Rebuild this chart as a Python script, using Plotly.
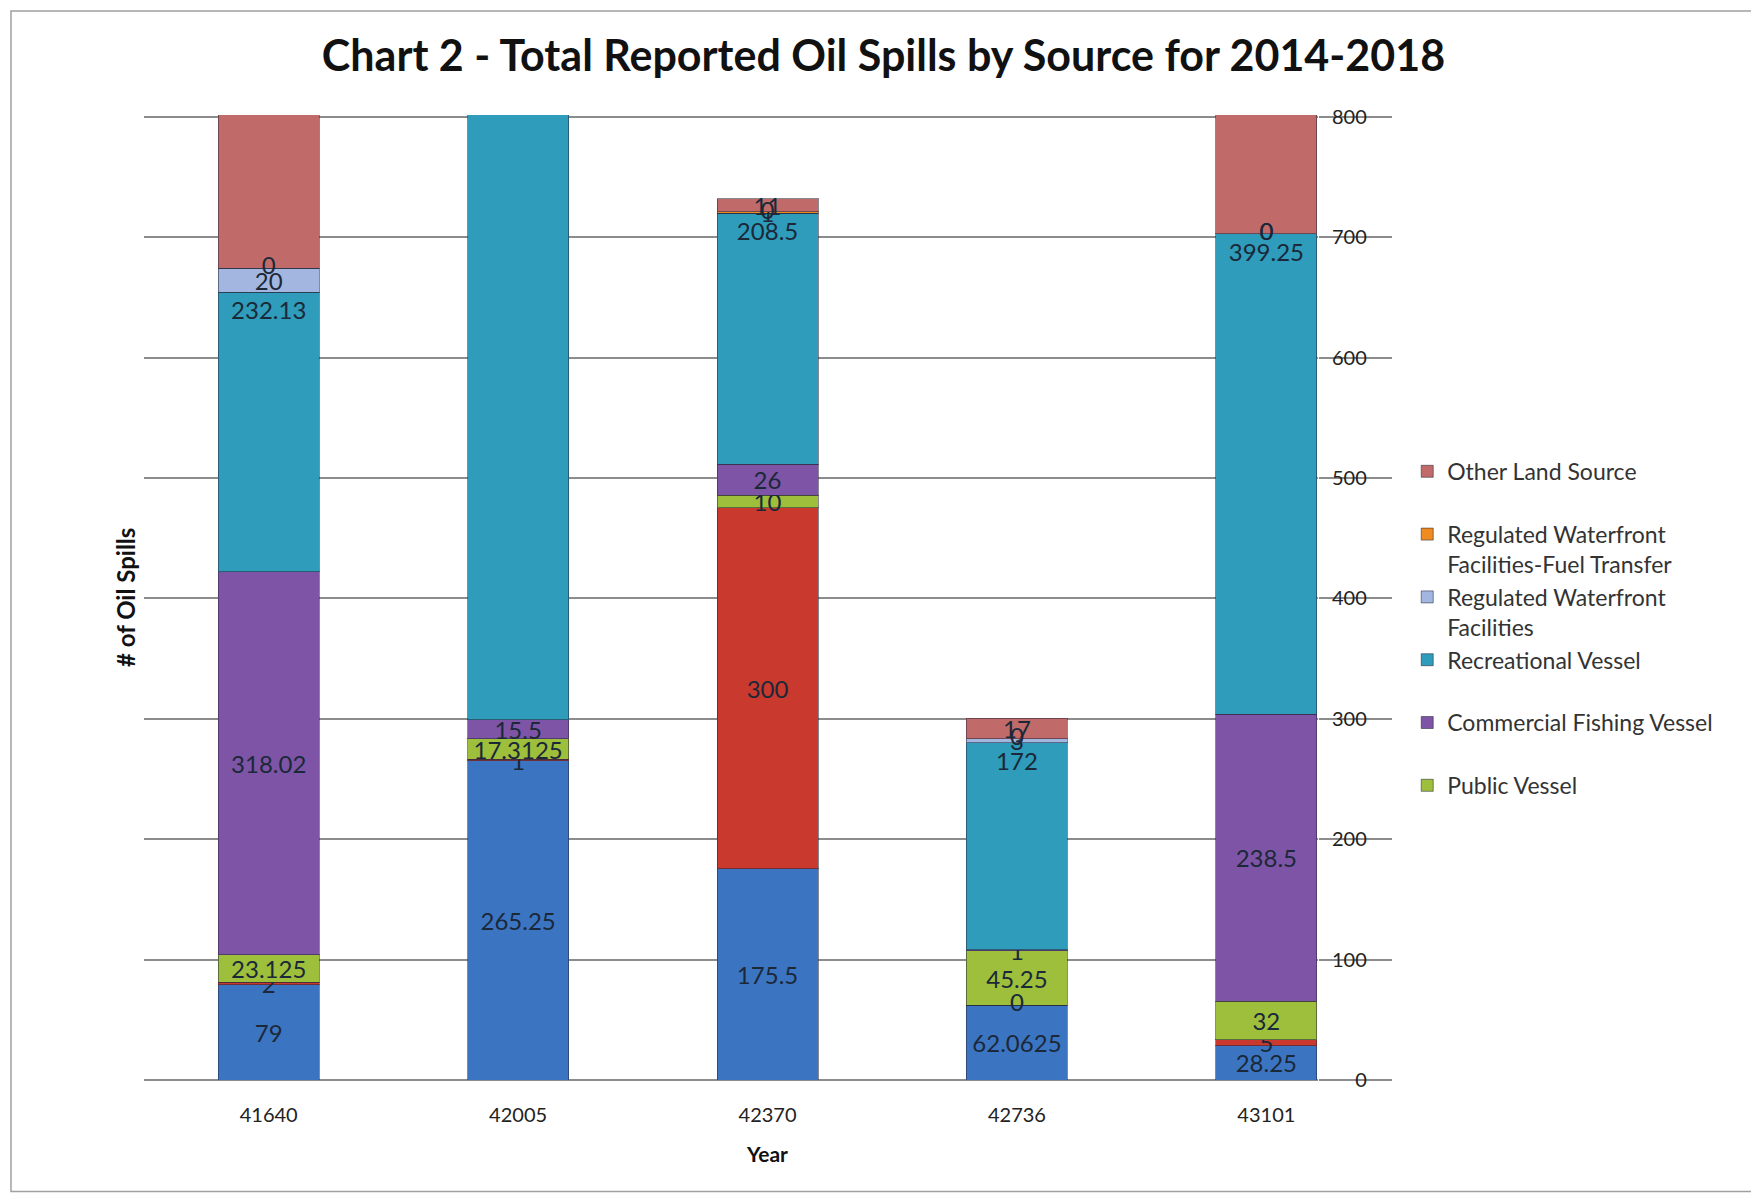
import plotly.graph_objects as go

# categories (Excel date serials as shown on the axis)
years = ['41640', '42005', '42370', '42736', '43101']

# series, bottom of the stack first
commercial_vessel = [79, 265.25, 175.5, 62.0625, 28.25]
non_regulated = [2, 1, 300, 0, 5]
public_vessel = [23.125, 17.3125, 10, 45.25, 32]
commercial_fishing = [318.02, 15.5, 26, 1, 238.5]
recreational = [232.13, 1040, 208.5, 172, 399.25]
reg_waterfront = [20, 0, 0, 3, 0]
reg_fuel_transfer = [0, 0, 1, 0, 0]
other_land = [280, 0, 11, 17, 210]

series = [
    ('Commercial Vessel', commercial_vessel, '#3B75C2', False),
    ('Non-Regulated Facility', non_regulated, '#C9392E', False),
    ('Public Vessel', public_vessel, '#9DBF3C', True),
    ('Commercial Fishing Vessel', commercial_fishing, '#7D54A6', True),
    ('Recreational Vessel', recreational, '#2E9CBA', True),
    ('Regulated Waterfront<br>Facilities', reg_waterfront, '#A3B6E0', True),
    ('Regulated Waterfront<br>Facilities-Fuel Transfer', reg_fuel_transfer, '#EF8B1F', True),
    ('Other Land Source', other_land, '#C06B6A', True),
]

YMAX = 800
y_ticks = list(range(0, YMAX + 1, 100))
# plot area is narrower than the full category band so the axis ticks
# can run out to the right like Excel's gridlines do
X_END = len(years) - 0.5 - 0.293

LABEL_FONT = dict(family='Lato', size=24, color='#1B2838')


def fmt(v):
    return f'{v:g}'


fig = go.Figure()
base = [0] * len(years)
zero_x, zero_y = [], []
for k, (name, vals, color, show) in enumerate(series):
    # Excel hides labels whose segment centre falls above the axis max
    labels = []
    for i, v in enumerate(vals):
        labels.append('' if base[i] + v / 2 > YMAX else fmt(v))
        if v == 0 and base[i] <= YMAX:
            zero_x.append(years[i])
            zero_y.append(base[i])
    legend_name = name if '<br>' in name else name + '<br> '
    fig.add_trace(go.Bar(
        x=years, y=vals, name=legend_name,
        text=labels, textposition='inside', textangle=0, constraintext='none',
        insidetextanchor='end' if name == 'Recreational Vessel' else 'middle',
        textfont=LABEL_FONT,
        marker=dict(color=color, line=dict(color='rgba(40,40,60,0.55)', width=1)),
        showlegend=show, legendgroup=name, legendrank=1000 - k,
    ))
    base = [b + v for b, v in zip(base, vals)]

# zero-height segments still carry a "0" label in the original
fig.add_trace(go.Scatter(
    x=zero_x, y=zero_y, mode='text', text=['0'] * len(zero_x),
    textposition='middle center', textfont=LABEL_FONT,
    showlegend=False, hoverinfo='skip',
))

fig.update_layout(
    barmode='stack',
    bargap=0.595,
    width=1751, height=1190,
    paper_bgcolor='white', plot_bgcolor='white',
    margin=dict(l=136, r=441, t=107, b=118),
    font=dict(family='Lato', size=19, color='#222'),
    title=dict(text='<b>Chart 2 - Total Reported Oil Spills by Source for 2014-2018</b>',
               x=0.5, xanchor='center', xref='container',
               y=0.96, yanchor='middle', yref='container',
               font=dict(family='Lato', size=43, color='#111')),
    uniformtext=dict(minsize=24, mode='show'),
    legend=dict(x=1.076, y=0.653, xanchor='left', yanchor='top',
                traceorder='grouped', tracegroupgap=0, valign='top',
                font=dict(family='Lato', size=23, color='#333'),
                itemclick=False),
    shapes=[dict(type='rect', xref='paper', yref='paper',
                 x0=-0.1133, x1=1.3731, y0=-0.1156, y1=1.1078,
                 line=dict(color='#A0A0A0', width=1.5), fillcolor='rgba(0,0,0,0)',
                 layer='below')],
    annotations=[
        dict(text='<b># of Oil Spills</b>', textangle=-90,
             xref='paper', yref='paper', x=-0.0157, y=0.5,
             xanchor='center', yanchor='middle', showarrow=False,
             font=dict(family='Lato', size=24, color='#111')),
        dict(text='<b>Year</b>', xref='paper', yref='paper', x=0.5307, y=-0.0762,
             xanchor='center', yanchor='middle', showarrow=False,
             font=dict(family='Lato', size=21, color='#111')),
    ],
)

fig.update_xaxes(
    type='category', range=[-0.5, X_END],
    showgrid=False, showline=False, ticks='', ticklabelstandoff=21,
    tickfont=dict(family='Lato', size=20, color='#222'),
)
fig.update_yaxes(
    range=[0, YMAX + 1.5], side='right',
    tickmode='array', tickvals=y_ticks,
    ticktext=[f'{v:\u2007>3}' for v in y_ticks],
    ticks='outside', ticklen=73, tickwidth=1.5, tickcolor='#8C8C8C',
    ticklabelstandoff=-64,
    showline=False, zeroline=True, zerolinecolor='#8C8C8C', zerolinewidth=1.5,
    showgrid=True, gridcolor='#8C8C8C', gridwidth=1.5,
    tickfont=dict(family='Lato', size=20, color='#222'),
)

fig.write_html('out.html')
